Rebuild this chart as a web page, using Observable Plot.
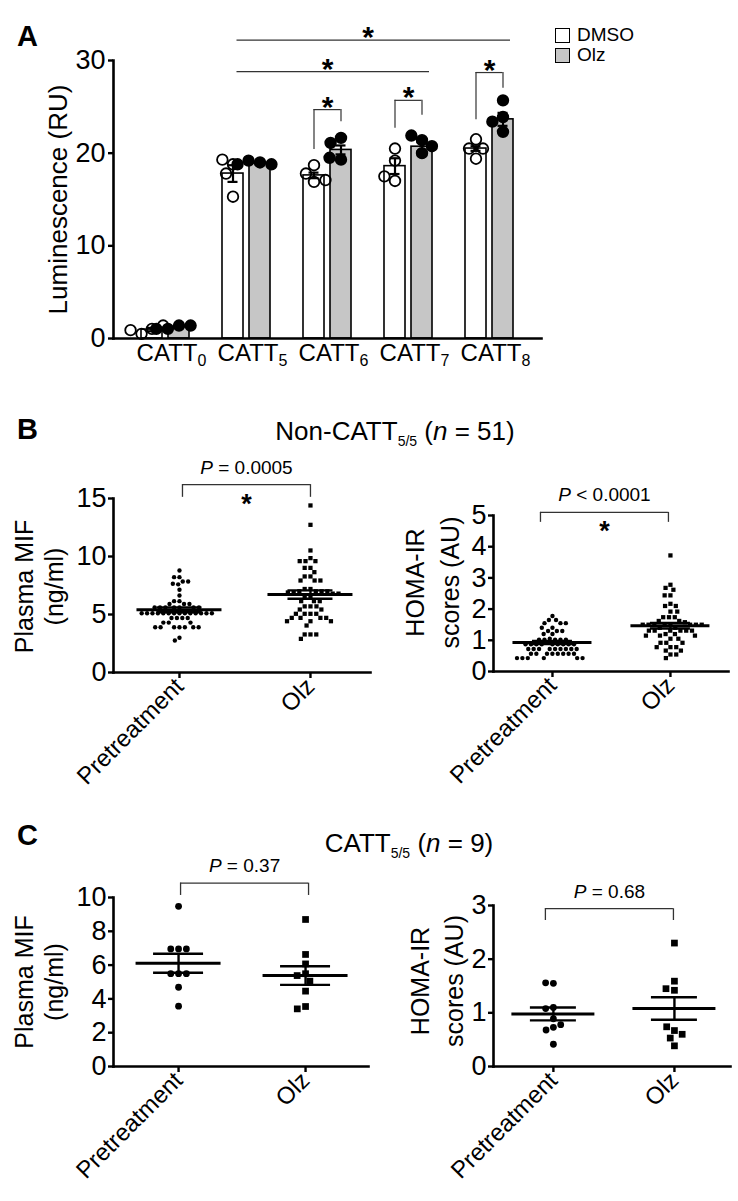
<!DOCTYPE html>
<html><head><meta charset="utf-8">
<script src="https://cdn.jsdelivr.net/npm/d3@7"></script>
<script src="https://cdn.jsdelivr.net/npm/@observablehq/plot@0.6"></script>
<style>
body{margin:0;background:#fff;}
#fig{position:relative;width:738px;height:1201px;overflow:hidden;background:#fff;color:#000;font-family:"Liberation Sans",Arial,Helvetica,sans-serif;}
.letter{position:absolute;font-weight:bold;font-size:29px;line-height:29px;}
.title{position:absolute;width:420px;text-align:center;font-size:26px;line-height:26px;white-space:nowrap;}
.title .sub{font-size:14px;position:relative;top:6px;}
.legend{position:absolute;font-size:19px;line-height:20px;}
.legend .row{display:flex;align-items:center;height:20px;}
.legend .sw{display:inline-block;width:13px;height:13px;border:1.5px solid #000;margin-right:7px;box-sizing:content-box;}
</style></head>
<body><div id="fig"></div>
<script>
// ---------------- DATA ----------------
// Panel A
const cats = ["CATT0", "CATT5", "CATT6", "CATT7", "CATT8"];
const treatments = ["DMSO", "Olz"];
const treatmentFill = ["white", "#c6c6c6"];
const dmsoMean = [0.96, 17.8, 17.6, 18.6, 20.5];
const olzMean  = [1.22, 18.9, 20.35, 20.7, 23.65];
const dmsoSem  = [0.18, 0.9, 0.3, 0.85, 0.25];
const olzSem   = [0.09, 0.1, 0.48, 0.5, 0.7];
const dmsoPts = [[1.04, 0.5, 1.4, 0.9], [18.8, 19.3, 17.8, 15.3], [18.7, 17.8, 16.9, 17.1], [20.5, 19.2, 17.0, 17.5], [21.5, 20.5, 20.5, 19.4]];
const olzPts  = [[1.4, 1.04, 1.4, 1.04], [19.0, 19.2, 18.8, 18.8], [21.65, 21.1, 19.3, 19.5], [21.4, 21.9, 20.75, 20.0], [25.7, 23.9, 23.4, 22.3]];
const lumTicks = [0, 10, 20, 30];
const spanFrom = ["CATT5", "CATT5"];
const spanTo = ["CATT8", "CATT7"];
const spanLevel = [32.2, 28.8];
const brCats = ["CATT6", "CATT7", "CATT8"];
const brTop = [24.7, 25.7, 28.7];
const brLeftEnd = [20.4, 22.7, 23.6];
const brRightEnd = [23.4, 24.1, 27.0];

// Panels B and C
const groups = ["Pretreatment", "Olz"];
const bMifPre = [8.79, 8.22, 8.22, 7.85, 7.85, 7.6, 7.65, 7.13, 6.64, 6.15, 6.15, 5.9, 5.9, 5.9,
  5.6, 5.6, 5.6, 5.6, 5.6, 5.6, 5.6,
  5.11, 5.11, 5.11, 5.11, 5.11, 5.11, 5.11, 5.11, 5.11, 5.11, 5.11, 5.11, 5.11, 5.11,
  4.7, 4.7, 4.7, 4.7, 4.3, 4.3, 4.3, 3.9, 3.9, 3.9, 3.9, 3.9, 3.9, 3.9, 3.0, 2.76];
const bMifOlz = [14.4, 12.73, 10.52, 9.86, 9.6, 9.6, 9.6, 9.02, 9.02, 8.65, 8.28, 8.28, 7.93, 7.93, 7.93,
  7.2, 7.2, 7.0, 7.0, 7.0, 7.0, 6.9, 6.9, 6.8, 6.8, 6.55, 6.55, 6.15, 6.15, 6.15, 5.7, 5.7, 5.7,
  5.43, 5.43, 5.06, 5.06, 5.06, 5.06, 4.71, 4.71, 4.71, 4.71, 4.42, 4.42, 4.42, 4.05, 3.28, 3.28, 3.28, 2.9];
const bHomaPre = [1.78, 1.65, 1.65, 1.55, 1.55, 1.55, 1.4, 1.4, 1.3, 1.3, 1.3, 1.2, 1.2, 1.05,
  1.02, 1.02, 1.02, 1.02, 1.02,
  0.87, 0.87, 0.87, 0.87, 0.87, 0.87, 0.87, 0.87, 0.87,
  0.72, 0.72, 0.72, 0.72, 0.72, 0.72, 0.72, 0.72, 0.72,
  0.57, 0.57, 0.57, 0.57, 0.57, 0.57, 0.57, 0.57,
  0.43, 0.43, 0.43, 0.43, 0.43, 0.43];
const bHomaOlz = [3.72, 2.78, 2.68, 2.62, 2.44, 2.44, 2.17, 2.1, 2.1, 1.92, 1.92, 1.74, 1.74, 1.74, 1.62, 1.62, 1.58,
  1.5, 1.5, 1.5, 1.5, 1.5, 1.5, 1.5, 1.5, 1.4, 1.4, 1.31, 1.31, 1.31, 1.31, 1.31, 1.31, 1.2, 1.2,
  1.15, 1.15, 1.15, 1.05, 1.05, 0.92, 0.92, 0.92, 0.78, 0.78, 0.78, 0.67, 0.67, 0.545, 0.545, 0.43];
const cMifPre = [9.48, 6.96, 6.96, 6.96, 5.49, 5.49, 5.49, 4.69, 3.57];
const cMifOlz = [8.70, 6.63, 6.07, 5.49, 5.38, 5.05, 4.46, 3.55, 3.41];
const cHomaPre = [1.55, 1.56, 1.10, 1.08, 0.89, 0.73, 0.68, 0.78, 0.415];
const cHomaOlz = [2.30, 1.59, 1.42, 1.45, 0.67, 0.74, 0.60, 0.53, 0.385];
const bMifMean = [5.40, 6.72], bMifSem = [0.21, 0.36];
const bHomaMean = [0.93, 1.47], bHomaSem = [0.05, 0.09];
const cMifMean = [6.11, 5.38], cMifSem = [0.56, 0.55];
const cHomaMean = [0.98, 1.08], cHomaSem = [0.12, 0.21];
const mifTicksB = [0, 5, 10, 15], homaTicksB = [0, 1, 2, 3, 4, 5];
const mifTicksC = [0, 2, 4, 6, 8, 10], homaTicksC = [0, 1, 2, 3];
const pLabels = ["P = 0.0005", "P < 0.0001", "P = 0.37", "P = 0.68"];
const sigStar = [true, true, false, false];
const mifLabel = "Plasma MIF\n(ng/ml)";
const homaLabel = "HOMA-IR\nscores (AU)";

// ---------------- HELPERS ----------------
const svgNS = "http://www.w3.org/2000/svg";
const FONT = '"Liberation Sans", Arial, Helvetica, sans-serif';
const STYLE = `font-family:${FONT};font-size:25px;background:transparent;overflow:visible;color:#000;`;
const fig = document.getElementById("fig");
function place(node, left, top) {
  node.style.position = "absolute";
  node.style.left = left + "px";
  node.style.top = top + "px";
  node.style.maxWidth = "none";
  fig.appendChild(node);
  return node;
}
function mkBand(domain, range, o) {
  return d3.scaleBand(domain, range).paddingInner(o.paddingInner).paddingOuter(o.paddingOuter).align(o.align);
}
function italicP(svg) {
  for (const t of svg.querySelectorAll("text")) {
    const s = t.textContent;
    if (/^P [=<]/.test(s) && !t.querySelector("tspan")) {
      t.textContent = "";
      const a = document.createElementNS(svgNS, "tspan");
      a.setAttribute("font-style", "italic");
      a.textContent = "P";
      t.appendChild(a);
      t.appendChild(document.createTextNode(s.slice(1)));
    }
  }
}
function subscripts(svg) {
  for (const t of svg.querySelectorAll("text")) {
    const m = t.textContent.match(/^CATT(\d)$/);
    if (m) {
      t.textContent = "CATT";
      const ts = document.createElementNS(svgNS, "tspan");
      ts.setAttribute("dy", "5");
      ts.setAttribute("font-size", "16");
      ts.textContent = m[1];
      t.appendChild(ts);
    }
  }
}
function html(cls, left, top, inner) {
  const d = document.createElement("div");
  d.className = cls;
  d.style.left = left + "px";
  d.style.top = top + "px";
  d.innerHTML = inner;
  fig.appendChild(d);
  return d;
}
const intFmt = d3.format("d");

// ---------------- PANEL A ----------------
const A = {W: 548, H: 390, ML: 113, MR: 7, MT: 60, MB: 52, band: {paddingInner: 0.222, paddingOuter: 1.037, align: 0.5}};
const slotKeys = [];
cats.forEach((c, i) => { if (i) slotKeys.push("gap" + i); treatments.forEach(t => slotKeys.push(c + "|" + t)); });
const aRange = [A.ML, A.W - A.MR];
const aXb = mkBand(slotKeys, aRange, A.band);
const aBW = aXb.bandwidth(), aStep = aXb.step();
const aC = k => aXb(k) + aBW / 2;
const aMid = (aRange[0] + aRange[1]) / 2;
const aDims = {width: A.W, height: A.H, marginLeft: A.ML, marginRight: A.MR, marginTop: A.MT, marginBottom: A.MB, style: STYLE};
const aXopt = {type: "band", domain: slotKeys, range: aRange, ...A.band, round: false};
const aYopt = {domain: [0, 30]};

const bars = cats.flatMap((c, i) => [
  {cat: c, trt: "DMSO", key: c + "|DMSO", mean: dmsoMean[i], sem: dmsoSem[i]},
  {cat: c, trt: "Olz", key: c + "|Olz", mean: olzMean[i], sem: olzSem[i]}
]);
const spans = spanFrom.map((f, i) => ({fromKey: f + "|DMSO", toKey: spanTo[i] + "|Olz", level: spanLevel[i]}));
const brackets = brCats.map((c, i) => ({dKey: c + "|DMSO", oKey: c + "|Olz", top: brTop[i], left: brLeftEnd[i], right: brRightEnd[i]}));
const lineStyle = {stroke: "#333", strokeWidth: 1.2};
const starStyle = {text: () => "*", fontSize: 30, fontWeight: "bold", lineAnchor: "bottom"};

const aBars = Plot.plot({
  ...aDims,
  x: aXopt, y: aYopt,
  color: {domain: treatments, range: treatmentFill},
  marks: [
    Plot.barY(bars, {x: "key", y: "mean", fill: "trt", stroke: "black", strokeWidth: 1.6}),
    Plot.frame({anchor: "left", strokeWidth: 2.6}),
    Plot.frame({anchor: "bottom", strokeWidth: 2.6}),
    Plot.axisY({ticks: lumTicks, tickFormat: intFmt, tickSize: 5, tickPadding: 3, fontSize: 27, strokeWidth: 2.4, label: null}),
    Plot.axisX({ticks: cats.map(c => c + "|DMSO"), tickFormat: k => k.split("|")[0], tickSize: 0, tickPadding: 5, fontSize: 24, dx: aStep / 2 + 6, label: null}),
    Plot.text(["Luminescence (RU)"], {text: d => d, frameAnchor: "left", textAnchor: "middle", rotate: -90, dx: -55, fontSize: 26}),
    Plot.ruleY(spans, {x1: "fromKey", x2: "toKey", y: "level", insetLeft: 14.5, insetRight: 3, ...lineStyle}),
    ...spans.map(s => Plot.text([s], {x: "fromKey", y: "level", dx: (aC(s.toKey) - aC(s.fromKey)) / 2, dy: 7, ...starStyle})),
    Plot.ruleY(brackets, {x1: "dKey", x2: "oKey", y: "top", insetLeft: aBW / 2, insetRight: aBW / 2, ...lineStyle}),
    Plot.ruleX(brackets, {x: "dKey", y1: "left", y2: "top", ...lineStyle}),
    Plot.ruleX(brackets, {x: "oKey", y1: "right", y2: "top", ...lineStyle}),
    Plot.text(brackets, {x: "dKey", y: "top", dx: aStep / 2, dy: 7, ...starStyle})
  ]
});
subscripts(aBars);
place(aBars, 0, 0);

const aDots = Plot.plot({
  ...aDims,
  y: {...aYopt, axis: null},
  marks: cats.flatMap((c, i) => [
    Plot.dot(dmsoPts[i], Plot.dodgeX("middle", {y: d => d, r: 5.3, padding: -4, dx: aC(c + "|DMSO") - aMid, fill: "none", stroke: "black", strokeWidth: 1.8})),
    Plot.dot(olzPts[i], Plot.dodgeX("middle", {y: d => d, r: 5.3, padding: -4, dx: aC(c + "|Olz") - aMid, fill: "black", stroke: "black", strokeWidth: 1.8}))
  ])
});
place(aDots, 0, 0);

const aErr = Plot.plot({
  ...aDims,
  x: {...aXopt, axis: null}, y: {...aYopt, axis: null},
  marks: [
    Plot.ruleX(bars, {x: "key", y1: d => d.mean - d.sem, y2: d => d.mean + d.sem, strokeWidth: 2.2}),
    Plot.tickY(bars, {x: "key", y: d => d.mean + d.sem, insetLeft: (aBW - 10) / 2, insetRight: (aBW - 10) / 2, strokeWidth: 2.2}),
    Plot.tickY(bars, {x: "key", y: d => d.mean - d.sem, insetLeft: (aBW - 10) / 2, insetRight: (aBW - 10) / 2, strokeWidth: 2.2})
  ]
});
place(aErr, 0, 0);

// legend
const leg = html("legend", 555, 25, "");
treatments.forEach((t, i) => {
  const r = document.createElement("div");
  r.className = "row";
  r.innerHTML = `<span class="sw" style="background:${treatmentFill[i]}"></span>${t}`;
  leg.appendChild(r);
});

// letters and titles
html("letter", 17, 22, "A");
html("letter", 17, 415, "B");
html("letter", 17, 821, "C");
html("title", 395 - 210, 418, 'Non-CATT<span class="sub">5/5</span> (<i>n</i> = 51)');
html("title", 409 - 210, 830, 'CATT<span class="sub">5/5</span> (<i>n</i> = 9)');

// ---------------- PANELS B & C ----------------
function scatterPanel(cfg) {
  const range = [cfg.ML, cfg.W - cfg.MR];
  const xb = mkBand(groups, range, cfg.band);
  const bw = xb.bandwidth(), step = xb.step();
  const cx = g => xb(g) + bw / 2;
  const mid = (range[0] + range[1]) / 2;
  const dims = {width: cfg.W, height: cfg.H, marginLeft: cfg.ML, marginRight: cfg.MR, marginTop: cfg.MT, marginBottom: cfg.MB, style: STYLE};
  const yopt = {domain: [0, cfg.yMax]};
  const dots = Plot.plot({
    ...dims, y: {...yopt, axis: null},
    marks: [
      Plot.dot(cfg.pre, Plot.dodgeX("middle", {y: d => d, r: cfg.rc, padding: cfg.padc, dx: cx(groups[0]) - mid, fill: "black", symbol: "circle"})),
      Plot.dot(cfg.olz, Plot.dodgeX("middle", {y: d => d, r: cfg.rs, padding: cfg.pads, dx: cx(groups[1]) - mid, fill: "black", symbol: "square"}))
    ]
  });
  place(dots, cfg.left, cfg.top);
  const stats = groups.map((g, i) => ({group: g, mean: cfg.mean[i], lo: cfg.mean[i] - cfg.sem[i], hi: cfg.mean[i] + cfg.sem[i]}));
  const ann = [{from: groups[0], to: groups[1], level: cfg.brTop, leg: cfg.brLeg, label: cfg.pLabel}];
  const mi = (bw - cfg.meanW) / 2, si = (bw - cfg.semW) / 2;
  const marks = [
    Plot.frame({anchor: "left", strokeWidth: 2.6}),
    Plot.frame({anchor: "bottom", strokeWidth: 2.6}),
    Plot.axisY({ticks: cfg.ticks, tickFormat: intFmt, tickSize: 5, tickPadding: 2, fontSize: 27, strokeWidth: 2.4, label: null}),
    Plot.axisX({tickSize: 6, tickPadding: 4, tickRotate: -45, fontSize: 24, strokeWidth: 2.4, label: null}),
    Plot.tickY(stats, {x: "group", y: "mean", insetLeft: mi, insetRight: mi, strokeWidth: 3}),
    Plot.tickY(stats, {x: "group", y: "hi", insetLeft: si, insetRight: si, strokeWidth: 2.4}),
    Plot.tickY(stats, {x: "group", y: "lo", insetLeft: si, insetRight: si, strokeWidth: 2.4}),
    Plot.ruleX(stats, {x: "group", y1: "lo", y2: "hi", strokeWidth: 2.4}),
    Plot.ruleY(ann, {x1: "from", x2: "to", y: "level", insetLeft: bw / 2 + cfg.brDx[0], insetRight: bw / 2 - cfg.brDx[1], stroke: "#333", strokeWidth: 1.3}),
    Plot.ruleX(ann, {x: "from", y1: "leg", y2: "level", dx: cfg.brDx[0], stroke: "#333", strokeWidth: 1.3}),
    Plot.ruleX(ann, {x: "to", y1: "leg", y2: "level", dx: cfg.brDx[1], stroke: "#333", strokeWidth: 1.3}),
    Plot.text(ann, {x: "from", y: "level", text: "label", dx: (step + cfg.brDx[0] + cfg.brDx[1]) / 2, dy: -11, lineAnchor: "bottom", fontSize: 19}),
    Plot.text([cfg.yLabel], {text: d => d, frameAnchor: "left", textAnchor: "middle", rotate: -90, dx: cfg.ylDx, dy: cfg.ylDy, lineHeight: cfg.ylLH, fontSize: 25})
  ];
  if (cfg.star) marks.push(Plot.text(ann, {x: "from", y: "level", text: () => "*", dx: (step + cfg.brDx[0] + cfg.brDx[1]) / 2, dy: 28, lineAnchor: "bottom", fontSize: 27, fontWeight: "bold"}));
  const main = Plot.plot({
    ...dims,
    x: {type: "band", domain: groups, range, ...cfg.band, round: false, label: null},
    y: {...yopt, label: null},
    marks
  });
  italicP(main);
  place(main, cfg.left, cfg.top);
}

scatterPanel({left: 0, top: 450, W: 380, H: 370, ML: 113, MR: 10, MT: 48, MB: 148, yMax: 15, ticks: mifTicksB,
  band: {paddingInner: 0.2, paddingOuter: 0.081, align: 0.64},
  pre: bMifPre, olz: bMifOlz, mean: bMifMean, sem: bMifSem, rc: 2.2, padc: 0.6, rs: 2.4, pads: 0.3,
  meanW: 85, semW: 45, brTop: 16.2, brLeg: 15.1, brDx: [3, 0], pLabel: pLabels[0], star: sigStar[0],
  yLabel: mifLabel, ylDx: -75, ylDy: 1, ylLH: 1.2});
scatterPanel({left: 380, top: 450, W: 358, H: 370, ML: 113, MR: 10, MT: 65, MB: 149, yMax: 5, ticks: homaTicksB,
  band: {paddingInner: 0.2, paddingOuter: 0.096, align: 0.52},
  pre: bHomaPre, olz: bHomaOlz, mean: bHomaMean, sem: bHomaSem, rc: 2.2, padc: 0.6, rs: 2.4, pads: 0.3,
  meanW: 79, semW: 40, brTop: 5.1, brLeg: 4.78, brDx: [-12, -2], pLabel: pLabels[1], star: sigStar[1],
  yLabel: homaLabel, ylDx: -63, ylDy: -11, ylLH: 1.4});
scatterPanel({left: 0, top: 860, W: 380, H: 341, ML: 113, MR: 12, MT: 37, MB: 135, yMax: 10, ticks: mifTicksC,
  band: {paddingInner: 0.2, paddingOuter: 0.104, align: 0.54},
  pre: cMifPre, olz: cMifOlz, mean: cMifMean, sem: cMifSem, rc: 3.4, padc: 3.6, rs: 3.8, pads: 2.4,
  meanW: 85, semW: 50, brTop: 10.85, brLeg: 10.12, brDx: [2, 3], pLabel: pLabels[2], star: sigStar[2],
  yLabel: mifLabel, ylDx: -75, ylDy: 0, ylLH: 1.2});
scatterPanel({left: 380, top: 860, W: 358, H: 341, ML: 113, MR: 8, MT: 45, MB: 135, yMax: 3, ticks: homaTicksC,
  band: {paddingInner: 0.2, paddingOuter: 0.079, align: 0.6},
  pre: cHomaPre, olz: cHomaOlz, mean: cHomaMean, sem: cHomaSem, rc: 3.4, padc: 3.6, rs: 3.8, pads: 2.4,
  meanW: 83, semW: 46, brTop: 2.94, brLeg: 2.72, brDx: [-8, -1], pLabel: pLabels[3], star: sigStar[3],
  yLabel: homaLabel, ylDx: -58, ylDy: -5, ylLH: 1.34});
</script>
</body></html>
